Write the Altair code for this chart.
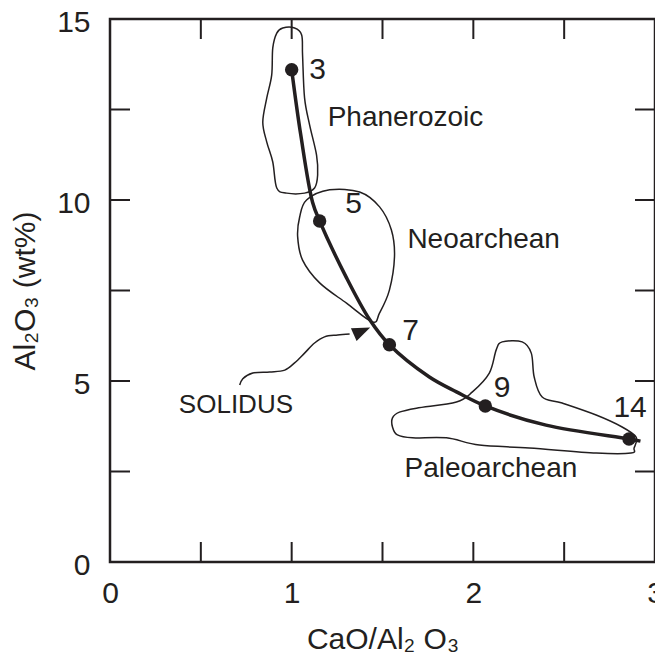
import altair as alt
import pandas as pd

# ---- data ----
# melting curve (CaO/Al2O3, Al2O3) with intermediate points along the curve
curve_x = [1.00, 1.05, 1.115, 1.154, 1.30, 1.43, 1.538, 1.758, 1.907, 2.066, 2.40, 2.857, 2.92]
curve_y = [13.6, 11.8, 9.94, 9.42, 7.87, 6.69, 6.00, 5.11, 4.70, 4.31, 3.78, 3.40, 3.34]

# labelled pressure points (GPa)
pt_x = [1.00, 1.154, 1.538, 2.066, 2.857]
pt_y = [13.6, 9.42, 6.00, 4.31, 3.40]
pt_lab = ["3", "5", "7", "9", "14"]
lab_x = [1.143, 1.341, 1.654, 2.159, 2.863]
lab_y = [13.59, 9.89, 6.38, 4.81, 4.25]

# field outlines
phan_x = [0.951, 1.016, 1.055, 1.060, 1.071, 1.099, 1.137, 1.143, 1.126, 1.071, 0.973, 0.918, 0.896, 0.863, 0.841, 0.863, 0.890, 0.896, 0.918]
phan_y = [14.75, 14.75, 14.56, 14.00, 12.82, 12.07, 11.24, 10.69, 10.33, 10.19, 10.19, 10.33, 11.05, 11.60, 12.15, 12.82, 13.45, 14.20, 14.61]
neo_x = [1.082, 1.209, 1.374, 1.484, 1.549, 1.566, 1.538, 1.484, 1.445, 1.302, 1.154, 1.060, 1.033, 1.044]
neo_y = [10.00, 10.28, 10.22, 9.81, 9.17, 8.43, 7.51, 6.88, 6.63, 7.15, 7.71, 8.34, 8.98, 9.53]
paleo_x = [1.582, 1.555, 1.555, 1.593, 1.687, 1.907, 1.995, 2.088, 2.126, 2.159, 2.269, 2.319, 2.335, 2.379, 2.489, 2.676, 2.819, 2.896, 2.885, 2.868, 2.676, 2.308, 2.033, 1.852, 1.665]
paleo_y = [3.51, 3.73, 3.98, 4.14, 4.25, 4.42, 4.70, 5.22, 5.86, 6.08, 6.08, 5.77, 5.11, 4.56, 4.39, 4.06, 3.73, 3.45, 3.15, 3.01, 3.01, 3.15, 3.23, 3.43, 3.43]

# solidus pointer
arr_x = [0.714, 0.731, 0.786, 0.879, 0.962, 1.016, 1.071, 1.126, 1.181, 1.253, 1.319]
arr_y = [4.89, 5.06, 5.22, 5.25, 5.30, 5.50, 5.77, 6.05, 6.22, 6.27, 6.30]
head_x = [1.387]
head_y = [6.38]

# field names
reg_lab = ["Phanerozoic", "Neoarchean", "Paleoarchean", "SOLIDUS"]
reg_x = [1.198, 1.637, 1.621, 0.379]
reg_y = [12.04, 8.67, 2.35, 4.12]
reg_size = [28, 28, 28, 26]

# axis ticks
x_ticks = [0.5, 1.0, 1.5, 2.0, 2.5]
y_ticks = [2.5, 5.0, 7.5, 10.0, 12.5]
x_labels = [0, 1, 2, 3]
y_labels = [0, 5, 10, 15]

# ---- chart ----
W, H = 545, 543
INK = "#231f20"
FONT = "Liberation Sans"

X = alt.X("x:Q", scale=alt.Scale(domain=[0, 3], nice=False, zero=False),
          axis=alt.Axis(values=x_labels, title="CaO/Al₂ O₃", ticks=False, grid=False,
                        domain=False, labelPadding=16, titlePadding=16, format="d",
                        labelFlush=False, labelOverlap=False))
Y = alt.Y("y:Q", scale=alt.Scale(domain=[0, 15], nice=False, zero=False),
          axis=alt.Axis(values=y_labels, title="Al₂O₃ (wt%)", ticks=False, grid=False,
                        domain=False, labelPadding=20, titlePadding=16, format="d",
                        labelFlush=False, labelOverlap=False, labelOffset=3))

curve_df = pd.DataFrame({"x": curve_x, "y": curve_y, "o": range(len(curve_x))})
pts_df = pd.DataFrame({"x": pt_x, "y": pt_y})
lab_df = pd.DataFrame({"x": lab_x, "y": lab_y, "t": pt_lab})

fields = []
for name, xs, ys in [("phan", phan_x, phan_y), ("neo", neo_x, neo_y), ("paleo", paleo_x, paleo_y)]:
    for i, (a, b) in enumerate(zip(xs, ys)):
        fields.append({"x": a, "y": b, "g": name, "o": i})
fields_df = pd.DataFrame(fields)

arr_df = pd.DataFrame({"x": arr_x, "y": arr_y, "o": range(len(arr_x))})
head_df = pd.DataFrame({"x": head_x, "y": head_y})
reg_df = pd.DataFrame({"x": reg_x, "y": reg_y, "t": reg_lab, "s": reg_size})

xt_df = pd.DataFrame({"x": x_ticks})
yt_df = pd.DataFrame({"y": y_ticks})

field_lines = alt.Chart(fields_df).mark_line(
    interpolate="cardinal-closed", color=INK, strokeWidth=1.5
).encode(x=X, y=Y, detail="g:N", order="o:Q")

curve = alt.Chart(curve_df).mark_line(
    interpolate="catmull-rom", color=INK, strokeWidth=3.5
).encode(x=X, y=Y, order="o:Q")

points = alt.Chart(pts_df).mark_point(
    filled=True, color=INK, size=180, opacity=1, shape="circle"
).encode(x=X, y=Y)

pt_text = alt.Chart(lab_df).mark_text(
    font=FONT, fontSize=30, color=INK, align="center", baseline="middle"
).encode(x=X, y=Y, text="t:N")

arrow = alt.Chart(arr_df).mark_line(
    interpolate="catmull-rom", color=INK, strokeWidth=1.5
).encode(x=X, y=Y, order="o:Q")

head = alt.Chart(head_df).mark_point(
    filled=True, color=INK, opacity=1, size=324, angle=336,
    shape="M1,0 L-1,-0.78 L-1,0.78 Z"
).encode(x=X, y=Y)

reg_text = alt.Chart(reg_df).mark_text(
    font=FONT, color=INK, align="left", baseline="alphabetic"
).encode(x=X, y=Y, text="t:N", size=alt.Size("s:Q", scale=None, legend=None))

tb = alt.Chart(xt_df).mark_rule(color=INK, strokeWidth=2).encode(
    x=X, y=alt.value(H), y2=alt.value(H - 20))
tt = alt.Chart(xt_df).mark_rule(color=INK, strokeWidth=2).encode(
    x=X, y=alt.value(0), y2=alt.value(20))
tl = alt.Chart(yt_df).mark_rule(color=INK, strokeWidth=2).encode(
    y=Y, x=alt.value(0), x2=alt.value(20))
tr = alt.Chart(yt_df).mark_rule(color=INK, strokeWidth=2).encode(
    y=Y, x=alt.value(W), x2=alt.value(W - 20))

chart = alt.layer(
    field_lines, curve, arrow, head, points, pt_text, reg_text, tb, tt, tl, tr
).properties(
    width=W, height=H,
    autosize=alt.AutoSizeParams(type="none"),
    padding={"left": 102, "top": 11, "right": 0, "bottom": 93},
    background="white",
).configure_view(
    stroke=INK, strokeWidth=2.5
).configure_axis(
    labelFont=FONT, titleFont=FONT, labelFontSize=30, titleFontSize=30,
    labelColor=INK, titleColor=INK, titleFontWeight="normal",
)

chart.save("out.html", embed_options={"renderer": "svg", "actions": False})
